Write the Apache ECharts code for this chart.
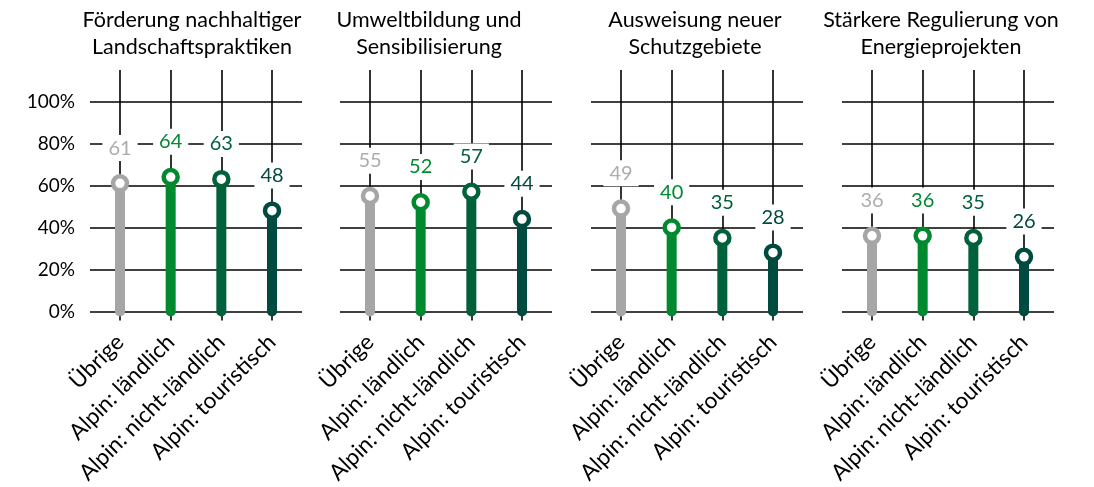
<!DOCTYPE html>
<html>
<head>
<meta charset="utf-8">
<script src="https://cdn.jsdelivr.net/npm/echarts@6/dist/echarts.min.js"></script>
<style>
	html, body { margin: 0; padding: 0; background: #fff; }
	#chart { width: 1094px; height: 487px; }
</style>
</head>
<body>
<div id="chart"></div>
<script>
// categories and panel titles
const categories = ["Übrige", "Alpin: ländlich", "Alpin: nicht-ländlich", "Alpin: touristisch"];
const titles = [
	"Förderung nachhaltiger\nLandschaftspraktiken",
	"Umweltbildung und\nSensibilisierung",
	"Ausweisung neuer\nSchutzgebiete",
	"Stärkere Regulierung von\nEnergieprojekten"
];
// values in percent, one array per panel
const foerderung = [61, 64, 63, 48];
const umweltbildung = [55, 52, 57, 44];
const schutzgebiete = [49, 40, 35, 28];
const regulierung = [36, 36, 35, 26];
const yTicks = [0, 20, 40, 60, 80, 100];

const panels = [foerderung, umweltbildung, schutzgebiete, regulierung];
const colors = ["#A6A6A6", "#00892F", "#00613A", "#004B40"];
const labelColors = ["#ADADAD", "#00892F", "#00613A", "#004B40"];
const font = "Lato, 'Open Sans', sans-serif";

const panelLeft = [90, 340, 591, 842];
const titleCenter = [187, 424, 690, 936];

let grids = [], xAxes = [], yAxes = [], series = [], titleList = [];

panels.forEach(function(values, p) {
	let L = panelLeft[p];
	// grid for the horizontal lines and y labels
	grids.push({ left: L, width: 212, top: 102, height: 210 });
	// grid for the lollipops and the vertical lines
	grids.push({ left: L + 30, width: 152, top: 70, height: 242 });

	xAxes.push({ gridIndex: 2 * p, type: "value", show: false, min: 0, max: 1 });
	yAxes.push({
		gridIndex: 2 * p,
		type: "value",
		min: yTicks[0],
		max: yTicks[yTicks.length - 1],
		interval: 20,
		axisLine: { show: false },
		axisTick: { show: false },
		splitLine: { show: true, lineStyle: { color: "#000", width: 1.6 } },
		axisLabel: {
			show: p == 0,
			formatter: "{value}%",
			color: "#000",
			fontSize: 19,
			fontFamily: font,
			margin: 15
		}
	});

	xAxes.push({
		gridIndex: 2 * p + 1,
		type: "category",
		data: categories,
		boundaryGap: false,
		axisLine: { show: false },
		axisTick: { show: true, length: 9, lineStyle: { color: "#000", width: 1.6 } },
		splitLine: { show: true, lineStyle: { color: "#000", width: 1.6 } },
		axisLabel: {
			rotate: 45,
			interval: 0,
			color: "#000",
			fontSize: 22.5,
			fontFamily: font,
			margin: 27
		}
	});
	yAxes.push({ gridIndex: 2 * p + 1, type: "value", min: 0, max: 115, show: false });

	let pts = values.map(function(v, i) { return [i, v]; });

	series.push({
		type: "custom",
		xAxisIndex: 2 * p + 1,
		yAxisIndex: 2 * p + 1,
		clip: false,
		z: 3,
		renderItem: function(params, api) {
			let a = api.coord([api.value(0), 0]);
			let b = api.coord([api.value(0), api.value(1)]);
			return {
				type: "line",
				shape: { x1: a[0], y1: a[1], x2: b[0], y2: b[1] },
				style: { stroke: colors[params.dataIndex], lineWidth: 10, lineCap: "round" }
			};
		},
		data: pts
	});

	series.push({
		type: "scatter",
		xAxisIndex: 2 * p + 1,
		yAxisIndex: 2 * p + 1,
		clip: false,
		z: 4,
		symbol: "circle",
		symbolSize: 14,
		itemStyle: { opacity: 1 },
		data: pts.map(function(pt, i) {
			return {
				value: pt,
				itemStyle: { color: "#fff", borderColor: colors[i], borderWidth: 4.5, opacity: 1 },
				label: { color: labelColors[i] }
			};
		}),
		label: {
			show: true,
			position: "top",
			distance: 13,
			fontSize: 20,
			fontFamily: font,
			backgroundColor: "#fff",
			padding: [3, 6],
			formatter: function(d) { return d.value[1]; }
		}
	});

	titleList.push({
		text: titles[p],
		left: titleCenter[p],
		top: 2,
		textAlign: "center",
		textStyle: {
			fontSize: 21.5,
			fontWeight: "normal",
			fontFamily: font,
			color: "#000",
			lineHeight: 27
		}
	});
});

let chart = echarts.init(document.getElementById("chart"));
chart.setOption({
	animation: false,
	title: titleList,
	grid: grids,
	xAxis: xAxes,
	yAxis: yAxes,
	series: series
});
</script>
</body>
</html>
